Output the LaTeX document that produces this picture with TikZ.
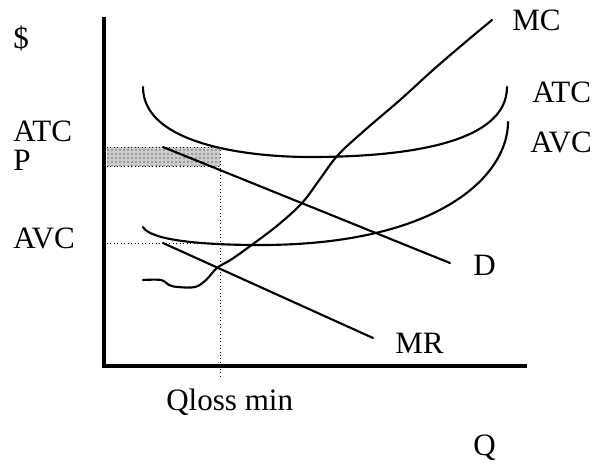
\documentclass[tikz,border=0pt]{standalone}
\usepackage{fontspec}
\setmainfont{Liberation Serif}
\usetikzlibrary{patterns}
\begin{document}
\begin{tikzpicture}[x=0.75pt,y=-0.75pt,
  lbl/.style={anchor=base west,inner sep=0pt,font=\fontsize{23.3}{28}\selectfont},
  curve/.style={line width=1.6pt,line cap=round,line join=round},
  axisline/.style={line width=3pt},
  guide/.style={dotted,line width=0.6pt}]
\useasboundingbox (0,0) rectangle (599,462);
% shaded loss rectangle
\fill[gray!40] (107,147) rectangle (220,166);
\fill[pattern=dots,pattern color=black] (107,147) rectangle (220,166);
\draw[guide] (107,147) -- (220,147);
\draw[guide] (107,166) -- (220,166);
% guides
\draw[guide] (220,147) -- (220,378);
\draw[guide] (107,243) -- (220,243);
% axes
\draw[axisline] (104,17) -- (104,366) -- (527,366);
% ATC
\draw[curve] (143,87) .. controls (143,145) and (250,157) .. (310,157)
  .. controls (400,157) and (507,145) .. (507,87);
% AVC
\draw[curve] (143,227) .. controls (150,240) and (200,245) .. (260,245)
  .. controls (440,245) and (508,175) .. (508,122);
% MC
\draw[curve] plot[smooth,tension=0.6] coordinates {(143,280) (161,280) (169,285) (178,287) (195,287) (206,280) (217,268) (232,259) (253,244) (278,225) (302,203) (320,179) (338,155) (365,130) (400,100) (433,70) (462,45) (492,20)};
% D and MR
\draw[curve] (163,147) -- (450,263);
\draw[curve] (163,243) -- (373,338);
% labels
\node[lbl] (ldollar) at (13,48) {\$};
\node[lbl] (latc) at (13,141) {ATC};
\node[lbl] (lp) at (13,170) {P};
\node[lbl] (lavc) at (13,248) {AVC};
\node[lbl] (mc) at (512,30) {MC};
\node[lbl] (ratc) at (532,102) {ATC};
\node[lbl] (ravc) at (530,152) {AVC};
\node[lbl] (d) at (473,275) {D};
\node[lbl] (mr) at (395,353) {MR};
\node[lbl] (qlm) at (166,410) {Qloss min};
\node[lbl] (q) at (473,455) {Q};
\end{tikzpicture}
\end{document}
